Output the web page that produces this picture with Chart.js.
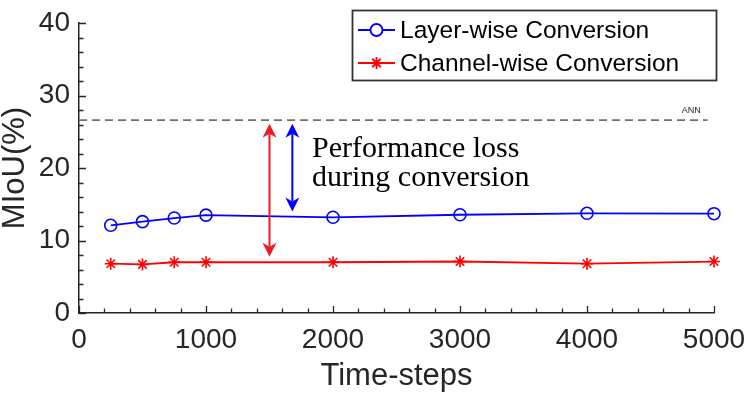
<!DOCTYPE html>
<html>
<head>
<meta charset="utf-8">
<script src="https://cdn.jsdelivr.net/npm/chart.js@4/dist/chart.umd.min.js"></script>
<style>
  html, body { margin: 0; padding: 0; background: #fff; }
  #wrap { width: 747px; height: 397px; position: relative; }
</style>
</head>
<body>
<div id="wrap"><canvas id="c" width="747" height="397"></canvas></div>
<script>
// ---- data ----
const timeSteps = [250, 500, 750, 1000, 2000, 3000, 4000, 5000];
const layerWise = [12.1, 12.6, 13.1, 13.5, 13.2, 13.55, 13.75, 13.7];
const channelWise = [6.8, 6.7, 7.0, 7.0, 7.0, 7.1, 6.8, 7.1];
const seriesNames = ['Layer-wise Conversion', 'Channel-wise Conversion'];
const annValue = 26.6;
const annSpan = [0, 4950];
const xTicks = [0, 1000, 2000, 3000, 4000, 5000];
const yTicks = [0, 10, 20, 30, 40];
const lossArrowRed = [1500, 26.1, 7.75];
const lossArrowBlue = [1680, 26.1, 14.0];
const lossText = ['Performance loss', 'during conversion'];

const TXT = '#262626';
const SANS = "'Liberation Sans', Arial, Helvetica, sans-serif";

const overlay = {
  id: 'overlay',
  afterDraw(chart) {
    const ctx = chart.ctx;
    const xs = chart.scales.x, ys = chart.scales.y;
    const ca = chart.chartArea;
    ctx.save();
    // inward ticks
    ctx.strokeStyle = TXT; ctx.lineWidth = 1.3;
    ctx.beginPath();
    for (let v = 0; v <= 5000; v += 200) {
      const px = Math.round(xs.getPixelForValue(v)) + 0.5;
      const len = (v % 1000 === 0) ? 7 : 4.5;
      ctx.moveTo(px, ca.bottom); ctx.lineTo(px, ca.bottom - len);
    }
    for (let v = 0; v <= 40; v += 2) {
      const py = Math.round(ys.getPixelForValue(v)) + 0.5;
      const len = (v % 10 === 0) ? 7 : 4.5;
      ctx.moveTo(ca.left, py); ctx.lineTo(ca.left + len, py);
    }
    ctx.stroke();

    // ANN label
    ctx.fillStyle = TXT;
    ctx.font = '9px ' + SANS;
    ctx.textAlign = 'right'; ctx.textBaseline = 'alphabetic';
    ctx.fillText('ANN', xs.getPixelForValue(annSpan[1]) - 7, ys.getPixelForValue(annValue) - 7);

    // arrows
    function dblArrow(a, color) {
      const x = xs.getPixelForValue(a[0]);
      const y1 = ys.getPixelForValue(a[1]);
      const y2 = ys.getPixelForValue(a[2]);
      const hl = 14, hw = 7, notch = 4;
      ctx.strokeStyle = color; ctx.fillStyle = color; ctx.lineWidth = 2;
      ctx.beginPath(); ctx.moveTo(x, y1 + hl - notch); ctx.lineTo(x, y2 - hl + notch); ctx.stroke();
      ctx.beginPath();
      ctx.moveTo(x, y1); ctx.lineTo(x + hw, y1 + hl); ctx.lineTo(x, y1 + hl - notch); ctx.lineTo(x - hw, y1 + hl); ctx.closePath();
      ctx.fill();
      ctx.beginPath();
      ctx.moveTo(x, y2); ctx.lineTo(x + hw, y2 - hl); ctx.lineTo(x, y2 - hl + notch); ctx.lineTo(x - hw, y2 - hl); ctx.closePath();
      ctx.fill();
    }
    dblArrow(lossArrowRed, '#ED1C24');
    dblArrow(lossArrowBlue, '#0000FF');

    // annotation text
    ctx.fillStyle = '#000';
    ctx.font = "30px 'Liberation Serif', 'Times New Roman', serif";
    ctx.textAlign = 'left'; ctx.textBaseline = 'alphabetic';
    ctx.fillText(lossText[0], 312, 157);
    ctx.fillText(lossText[1], 312, 186);

    // legend box
    const bx = 352.5, by = 10.5, bw = 364, bh = 70;
    ctx.fillStyle = '#fff';
    ctx.fillRect(bx, by, bw, bh);
    ctx.strokeStyle = '#333'; ctx.lineWidth = 1.8;
    ctx.strokeRect(bx, by, bw, bh);
    const rows = [
      {name: seriesNames[0], color: '#0000FF', y: 30, style: 'circle'},
      {name: seriesNames[1], color: '#FF0000', y: 63, style: 'star'}
    ];
    rows.forEach(r => {
      ctx.strokeStyle = r.color; ctx.lineWidth = 1.8;
      ctx.beginPath(); ctx.moveTo(358, r.y); ctx.lineTo(395, r.y); ctx.stroke();
      Chart.helpers.drawPoint(ctx, {pointStyle: r.style, radius: 6, borderWidth: 1.6, rotation: 0}, 376.5, r.y);
      ctx.fillStyle = '#000';
      ctx.font = '24.5px ' + SANS;
      ctx.textAlign = 'left'; ctx.textBaseline = 'middle';
      ctx.fillText(r.name, 400, r.y + 1);
    });
    ctx.restore();
  }
};

new Chart(document.getElementById('c'), {
  type: 'line',
  data: {
    datasets: [
      {
        label: 'ANN',
        data: annSpan.map(x => ({x, y: annValue})),
        borderColor: '#707070', borderWidth: 1.6, borderDash: [8, 5],
        pointRadius: 0, fill: false, clip: false
      },
      {
        label: seriesNames[0],
        data: timeSteps.map((x, i) => ({x, y: layerWise[i]})),
        borderColor: '#0000FF', borderWidth: 1.8,
        pointStyle: 'circle', pointRadius: 6, pointBorderWidth: 1.6,
        pointBackgroundColor: 'rgba(0,0,0,0)', pointBorderColor: '#0000FF',
        tension: 0, fill: false, clip: false
      },
      {
        label: seriesNames[1],
        data: timeSteps.map((x, i) => ({x, y: channelWise[i]})),
        borderColor: '#FF0000', borderWidth: 1.8,
        pointStyle: 'star', pointRadius: 6, pointBorderWidth: 1.6,
        pointBackgroundColor: '#FF0000', pointBorderColor: '#FF0000',
        tension: 0, fill: false, clip: false
      }
    ]
  },
  options: {
    responsive: false,
    animation: false,
    devicePixelRatio: 1,
    layout: { padding: { top: 23, right: 33, left: 0, bottom: 0 } },
    plugins: { legend: { display: false }, tooltip: { enabled: false } },
    scales: {
      x: {
        type: 'linear', min: 0, max: 5000,
        afterFit(s) { s.height = 84; s.paddingLeft = 0; s.paddingRight = 0; },
        afterBuildTicks(s) { s.ticks = xTicks.map(v => ({value: v})); },
        grid: { display: false, drawTicks: false },
        border: { display: true, color: TXT, width: 1.5 },
        ticks: { color: TXT, font: { family: SANS, size: 28 }, padding: 10, maxRotation: 0,
                 callback: v => String(v) },
        title: { display: true, text: 'Time-steps', color: TXT,
                 font: { family: SANS, size: 31, lineHeight: 1 }, padding: { top: 0, bottom: 5 } }
      },
      y: {
        type: 'linear', min: 0, max: 40,
        afterFit(s) { s.width = 79; s.paddingTop = 0; s.paddingBottom = 0; },
        afterBuildTicks(s) { s.ticks = yTicks.map(v => ({value: v})); },
        grid: { display: false, drawTicks: false },
        border: { display: true, color: TXT, width: 1.5 },
        ticks: { color: TXT, font: { family: SANS, size: 28 }, padding: 9, callback: v => String(v) },
        title: { display: true, text: 'MIoU(%)', color: TXT,
                 font: { family: SANS, size: 31, lineHeight: 1 }, padding: { top: 0, bottom: 0 } }
      }
    }
  },
  plugins: [overlay]
});
</script>
</body>
</html>
